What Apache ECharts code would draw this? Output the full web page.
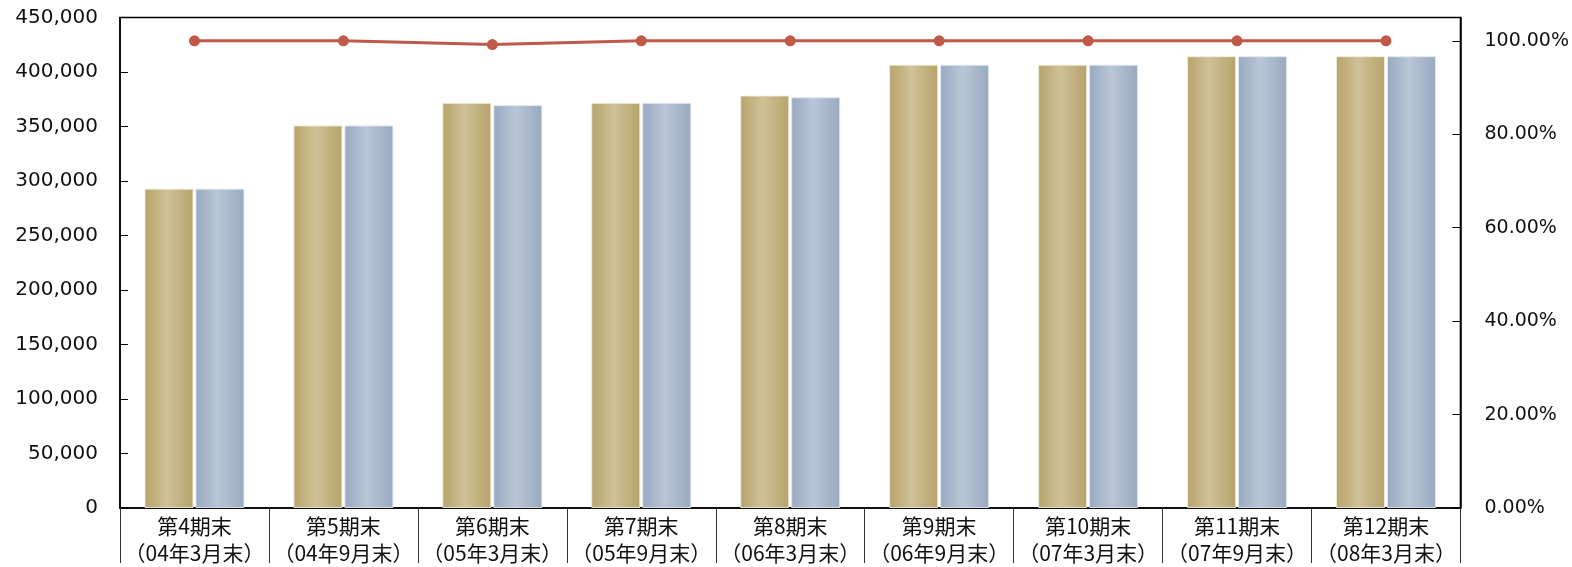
<!DOCTYPE html>
<html><head><meta charset="utf-8">
<script src="https://cdn.jsdelivr.net/npm/echarts@6/dist/echarts.min.js"></script>
<style>html,body{margin:0;padding:0;background:#fff}#c{width:1572px;height:567px}</style>
</head><body><div id="c"></div>
<script>
const categories = ['第4期末\n（04年3月末）','第5期末\n（04年9月末）','第6期末\n（05年3月末）','第7期末\n（05年9月末）','第8期末\n（06年3月末）','第9期末\n（06年9月末）','第10期末\n（07年3月末）','第11期末\n（07年9月末）','第12期末\n（08年3月末）'];
const goldValues = [293000, 351000, 371700, 371700, 378400, 406700, 406700, 414500, 414500];
const blueValues = [293000, 351000, 369600, 371700, 376800, 406700, 406700, 414500, 414500];
const ratioValues = [100, 100, 99.2, 100, 100, 100, 100, 100, 100];
const rightTicks = [0, 20, 40, 60, 80, 100];

const cjkFont = "'Noto Sans CJK JP', 'Noto Sans', sans-serif";
const numFont = "'DejaVu Sans', sans-serif";
const chart = echarts.init(document.getElementById('c'));
const grad = (e, m) => new echarts.graphic.LinearGradient(0, 0, 1, 0, [
  {offset: 0, color: e}, {offset: 0.45, color: m}, {offset: 1, color: e}]);
chart.setOption({
  animation: false,
  grid: {left: 120, right: 108, top: 17.5, bottom: 53, show: true, borderColor: '#000', borderWidth: 1.5, backgroundColor: 'transparent'},
  xAxis: {
    type: 'category', data: categories,
    axisLine: {lineStyle: {color: '#000', width: 1.5}},
    axisTick: {show: true, length: 55, interval: 0, lineStyle: {color: '#333', width: 1}},
    axisLabel: {interval: 0, fontFamily: cjkFont, fontSize: 21, lineHeight: 27, color: '#111', margin: 5}
  },
  yAxis: [{
    type: 'value', min: 0, max: 450000, interval: 50000,
    axisLine: {show: true, lineStyle: {color: '#000', width: 1.5}},
    axisTick: {show: true, inside: true, length: 8, lineStyle: {color: '#000'}},
    splitLine: {show: false},
    axisLabel: {fontFamily: numFont, fontSize: 20, color: '#111', margin: 22,
      formatter: v => v.toLocaleString('en-US')}
  }, {
    type: 'value', min: 0, max: 105, position: 'right',
    axisLine: {show: true, lineStyle: {color: '#000', width: 1.5}},
    axisTick: {show: true, inside: true, length: 8, customValues: rightTicks, lineStyle: {color: '#000'}},
    splitLine: {show: false},
    axisLabel: {fontFamily: numFont, fontSize: 19, color: '#111', margin: 24, customValues: rightTicks,
      formatter: v => v.toFixed(2) + '%'}
  }],
  series: [{
    name: '系列1', type: 'bar', data: goldValues, barWidth: 49, barGap: '4%',
    itemStyle: {color: grad('#b7a36b', '#cfc297'), borderColor: 'rgba(240,236,220,0.9)', borderWidth: 1}
  }, {
    name: '系列2', type: 'bar', data: blueValues, barWidth: 49,
    itemStyle: {color: grad('#98a9c1', '#bac6d6'), borderColor: 'rgba(225,232,240,0.9)', borderWidth: 1}
  }, {
    name: '系列3', type: 'line', yAxisIndex: 1, data: ratioValues,
    symbol: 'circle', symbolSize: 11,
    lineStyle: {color: '#bf5a4a', width: 3}, itemStyle: {color: '#bf5a4a'}
  }]
});
</script></body></html>
